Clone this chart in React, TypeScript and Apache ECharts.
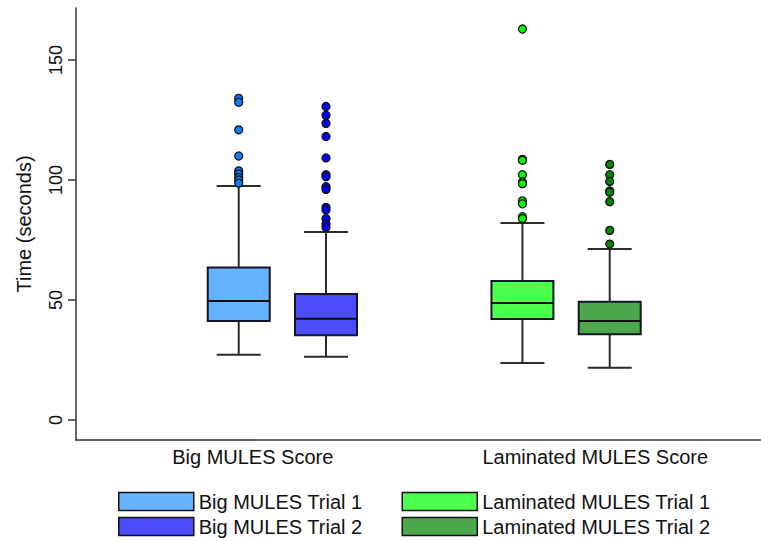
import React, { useEffect, useRef } from 'react';
import * as echarts from 'echarts';

// ---------- data ----------
const groupLabels = ['Big MULES Score', 'Laminated MULES Score'];
const seriesNames = [
  'Big MULES Trial 1',
  'Big MULES Trial 2',
  'Laminated MULES Trial 1',
  'Laminated MULES Trial 2',
];
// [lower whisker, q1, median, q3, upper whisker]
const bigTrial1Box = [27.2, 41.3, 49.6, 63.5, 97.5];
const bigTrial2Box = [26.4, 35.3, 42.2, 52.5, 78.3];
const lamTrial1Box = [23.8, 42.1, 48.8, 57.9, 82.1];
const lamTrial2Box = [21.8, 35.7, 41.3, 49.3, 71.3];

const bigTrial1Outliers = [134.0, 132.4, 120.9, 110.0, 103.8, 102.5, 101.1, 100.0, 98.7];
const bigTrial2Outliers = [130.6, 127.0, 123.6, 118.1, 109.2, 102.2, 101.4, 97.2, 96.1, 88.6, 87.5, 83.9, 81.7, 80.3];
const lamTrial1Outliers = [162.9, 108.6, 108.2, 102.2, 99.2, 98.5, 91.3, 90.1, 84.7, 83.9];
const lamTrial2Outliers = [106.5, 102.2, 99.4, 95.4, 94.9, 91.0, 79.0, 73.3];

const yTickValues = [0, 50, 100, 150];
const yAxisTitle = 'Time (seconds)';

// ---------- style / layout ----------
const FONT = "'Liberation Sans', Arial, Helvetica, sans-serif";
const boxFills = ['#66b2ff', '#4c4cff', '#4cff4c', '#4ca64c'];
const outlierFills = ['#0a7fff', '#0000ff', '#00ff00', '#008a00'];
const boxes = [bigTrial1Box, bigTrial2Box, lamTrial1Box, lamTrial2Box];
const outliers = [bigTrial1Outliers, bigTrial2Outliers, lamTrial1Outliers, lamTrial2Outliers];
const GROUP_STEP = 3.25; // box slots between groups
const BOX_W = 0.71;
const CAP_W = 0.504;

export default function App() {
  const ref = useRef<HTMLDivElement>(null);

  useEffect(() => {
    if (!ref.current) return;
    const chart = echarts.init(ref.current, undefined, { renderer: 'svg' });

    const slot = (i: number) => Math.floor(i / 2) * GROUP_STEP + (i % 2);

    const boxSeries = boxes.map((b, i) => ({
      type: 'custom',
      name: seriesNames[i],
      xAxisIndex: 1,
      yAxisIndex: 0,
      itemStyle: { color: boxFills[i], borderColor: '#111', borderWidth: 1.5 },
      encode: { x: 0, y: [1, 2, 3, 4, 5] },
      data: [[slot(i), ...b]],
      z: 2,
      renderItem: (params: any, api: any) => {
        const x = api.value(0);
        const lo = api.coord([x, api.value(1)]);
        const q1 = api.coord([x, api.value(2)]);
        const md = api.coord([x, api.value(3)]);
        const q3 = api.coord([x, api.value(4)]);
        const hi = api.coord([x, api.value(5)]);
        const bw = api.size([BOX_W, 0])[0];
        const cw = api.size([CAP_W, 0])[0];
        const cx = lo[0];
        const ws = { stroke: '#2b2b2b', lineWidth: 2 };
        return {
          type: 'group',
          children: [
            { type: 'line', shape: { x1: cx, y1: q3[1], x2: cx, y2: hi[1] }, style: ws },
            { type: 'line', shape: { x1: cx, y1: q1[1], x2: cx, y2: lo[1] }, style: ws },
            { type: 'line', shape: { x1: cx - cw / 2, y1: hi[1], x2: cx + cw / 2, y2: hi[1] }, style: ws },
            { type: 'line', shape: { x1: cx - cw / 2, y1: lo[1], x2: cx + cw / 2, y2: lo[1] }, style: ws },
            {
              type: 'rect',
              shape: { x: cx - bw / 2, y: q3[1], width: bw, height: q1[1] - q3[1] },
              style: { fill: boxFills[i], stroke: '#15152a', lineWidth: 2 },
            },
            { type: 'line', shape: { x1: cx - bw / 2, y1: md[1], x2: cx + bw / 2, y2: md[1] }, style: { stroke: '#111', lineWidth: 2 } },
          ],
        };
      },
    }));

    const outlierSeries = outliers.map((arr, i) => ({
      type: 'scatter',
      name: seriesNames[i] + ' outliers',
      xAxisIndex: 1,
      yAxisIndex: 0,
      symbol: 'circle',
      symbolSize: 8,
      itemStyle: { color: outlierFills[i], borderColor: '#111', borderWidth: 1.3, opacity: 1 },
      data: arr.map((v) => [slot(i), v]),
      z: 3,
    }));

    const legendCommon = {
      orient: 'vertical',
      padding: 0,
      itemGap: 5,
      itemWidth: 75,
      itemHeight: 18,
      icon: 'rect',
      selectedMode: false,
      textStyle: { fontSize: 20, color: '#111', fontFamily: FONT },
      itemStyle: { borderColor: '#111', borderWidth: 1.5 },
    };

    chart.setOption({
      animation: false,
      backgroundColor: '#ffffff',
      grid: { left: 76, right: 0, top: 8, bottom: 101 },
      legend: [
        { ...legendCommon, left: 118, top: 491.5, data: [seriesNames[0], seriesNames[1]] },
        { ...legendCommon, left: 401.5, top: 491.5, data: [seriesNames[2], seriesNames[3]] },
      ],
      xAxis: [
        {
          type: 'category',
          data: groupLabels,
          axisLine: { show: true, onZero: false, lineStyle: { color: '#333', width: 1.5 } },
          axisTick: { show: false },
          axisLabel: { fontSize: 20, color: '#111', fontFamily: FONT, margin: 7, padding: [0, 0, 0, 11] },
          splitLine: { show: false },
        },
        {
          type: 'value',
          show: false,
          min: -1.864,
          max: 5.983,
          axisLine: { onZero: false },
          splitLine: { show: false },
        },
      ],
      yAxis: [
        {
          type: 'value',
          min: -8.333,
          max: 171.667,
          name: yAxisTitle,
          nameLocation: 'middle',
          nameGap: 42,
          nameTextStyle: { fontSize: 20, color: '#111', fontFamily: FONT },
          axisLine: { show: true, onZero: false, lineStyle: { color: '#333', width: 1.5 } },
          axisTick: { show: true, length: 8, customValues: yTickValues, lineStyle: { color: '#333', width: 1.5 } },
          axisLabel: {
            customValues: yTickValues,
            rotate: 90,
            align: 'center',
            verticalAlign: 'bottom',
            margin: 11,
            fontSize: 18,
            color: '#111',
            fontFamily: FONT,
          },
          splitLine: { show: false },
        },
      ],
      series: [...boxSeries, ...outlierSeries],
    } as any);

    return () => chart.dispose();
  }, []);

  return (
    <div
      ref={ref}
      style={{ position: 'fixed', left: 0, top: 0, width: 761, height: 541, background: '#fff' }}
    />
  );
}
